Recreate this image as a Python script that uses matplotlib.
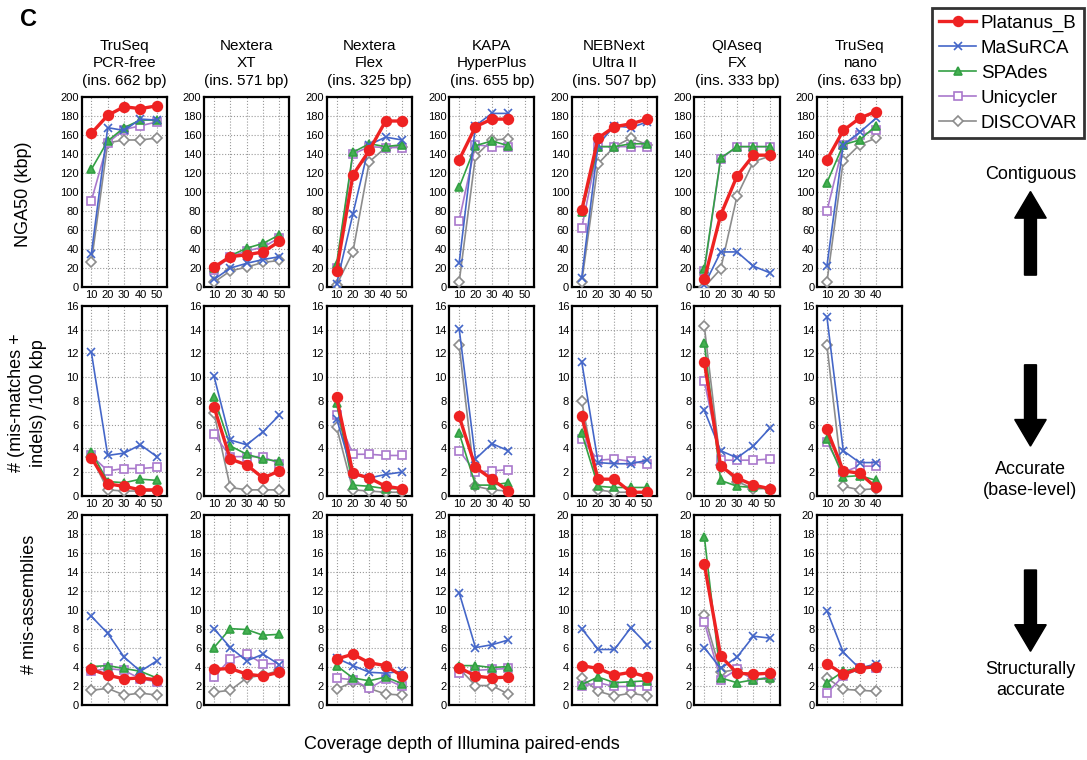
import numpy as np
import matplotlib
matplotlib.use('Agg')
import matplotlib.pyplot as plt
from matplotlib.patches import FancyArrow

plt.rcParams['font.family'] = ['Liberation Sans', 'DejaVu Sans']

libraries = ['TruSeq\nPCR-free\n(ins. 662 bp)', 'Nextera\nXT\n(ins. 571 bp)', 'Nextera\nFlex\n(ins. 325 bp)',
             'KAPA\nHyperPlus\n(ins. 655 bp)', 'NEBNext\nUltra II\n(ins. 507 bp)', 'QIAseq\nFX\n(ins. 333 bp)',
             'TruSeq\nnano\n(ins. 633 bp)']
assemblers = ['Platanus_B', 'MaSuRCA', 'SPAdes', 'Unicycler', 'DISCOVAR']
depth5 = [10, 20, 30, 40, 50]
depth4 = [10, 20, 30, 40]
depths = [depth5, depth5, depth5, depth4, depth5, depth5, depth4]
xticks_per_lib = [depth5, depth5, depth5, depth5, depth5, depth5, depth4]

# NGA50 (kbp), one list per assembler, columns = libraries
nga50_platanus = [[162, 181, 190, 188, 191], [21, 32, 34, 37, 48], [17, 118, 144, 175, 175], [134, 169, 177, 177],
                  [81, 157, 169, 172, 177], [8, 76, 117, 139, 139], [134, 165, 178, 185]]
nga50_masurca = [[35, 168, 165, 177, 176], [8, 20, 25, 29, 32], [3, 77, 150, 158, 155], [25, 170, 183, 183],
                 [10, 150, 170, 168, 174], [2, 37, 37, 22, 15], [22, 150, 163, 178]]
nga50_spades = [[124, 154, 168, 176, 176], [20, 33, 41, 46, 55], [24, 142, 151, 148, 150], [105, 149, 154, 149],
                [79, 148, 148, 151, 151], [19, 136, 148, 148, 148], [110, 150, 155, 170]]
nga50_unicycler = [[91, 152, 166, 170, 174], [18, 32, 38, 42, 52], [20, 140, 148, 147, 147], [70, 150, 148, 148],
                   [62, 148, 148, 148, 148], [17, 135, 148, 148, 148], [80, 150, 160, 165]]
nga50_discovar = [[26, 152, 155, 155, 157], [5, 17, 21, 26, 28], [2, 37, 132, 147, 148], [5, 138, 155, 156],
                  [5, 130, 148, 157, 150], [0, 19, 96, 132, 138], [5, 133, 150, 157]]

# mismatches + indels per 100 kbp
err_platanus = [[3.2, 1.0, 0.8, 0.5, 0.5], [7.5, 3.1, 2.6, 1.5, 2.1], [8.3, 1.9, 1.5, 0.8, 0.6], [6.7, 2.4, 1.4, 0.4],
                [6.7, 1.4, 1.4, 0.3, 0.3], [11.3, 2.5, 1.5, 0.9, 0.6], [5.6, 2.1, 1.9, 0.7]]
err_masurca = [[12.1, 3.4, 3.6, 4.3, 3.3], [10.1, 4.7, 4.3, 5.4, 6.8], [6.5, 1.8, 1.5, 1.8, 2.0], [14.1, 3.1, 4.4, 3.8],
               [11.3, 2.8, 2.7, 2.7, 3.0], [7.2, 3.8, 3.2, 4.2, 5.7], [15.1, 3.8, 2.8, 2.8]]
err_spades = [[3.7, 1.2, 1.1, 1.4, 1.3], [8.3, 4.2, 3.5, 3.1, 2.9], [7.8, 0.9, 0.8, 0.6, 0.6], [5.3, 0.9, 0.9, 1.1],
              [5.3, 0.8, 0.7, 0.7, 0.7], [12.9, 1.3, 0.8, 0.7, 0.6], [4.8, 1.6, 1.7, 1.3]]
err_unicycler = [[3.4, 2.1, 2.3, 2.3, 2.4], [5.2, 3.3, 3.3, 3.3, 2.7], [6.8, 3.5, 3.5, 3.4, 3.4], [3.8, 2.0, 2.1, 2.2],
                 [4.8, 3.0, 3.1, 2.9, 2.7], [9.7, 3.0, 3.0, 3.0, 3.1], [4.5, 2.0, 2.5, 2.5]]
err_discovar = [[3.3, 0.5, 0.4, 0.4, 0.4], [7.0, 0.7, 0.5, 0.5, 0.5], [5.8, 0.5, 0.4, 0.3, 0.3], [12.7, 0.8, 0.5, 0.4],
                [8.0, 0.5, 0.3, 0.3, 0.3], [14.3, 2.6, 1.2, 0.6, 0.6], [12.7, 0.8, 0.5, 0.6]]

# mis-assemblies
mis_platanus = [[3.7, 3.1, 2.7, 2.8, 2.6], [3.7, 3.8, 3.2, 3.0, 3.4], [4.8, 5.3, 4.4, 4.1, 3.0], [3.9, 3.0, 2.8, 2.9],
                [4.1, 3.8, 3.1, 3.4, 2.9], [14.8, 5.1, 3.3, 3.2, 3.3], [4.3, 3.2, 3.8, 4.0]]
mis_masurca = [[9.3, 7.5, 5.0, 3.5, 4.6], [8.0, 6.0, 4.6, 5.3, 4.2], [4.9, 4.1, 3.4, 3.3, 3.5], [11.8, 6.0, 6.3, 6.8],
               [8.0, 5.8, 5.8, 8.1, 6.3], [6.0, 3.8, 5.0, 7.2, 7.0], [9.9, 5.5, 3.8, 4.3]]
mis_spades = [[4.0, 4.1, 3.8, 3.5, 2.8], [6.0, 8.0, 7.9, 7.3, 7.4], [4.1, 2.8, 2.5, 2.9, 2.2], [4.1, 4.1, 3.9, 4.0],
              [2.1, 2.9, 2.3, 2.4, 2.5], [17.7, 2.8, 2.3, 2.6, 2.8], [2.3, 3.5, 3.9, 4.1]]
mis_unicycler = [[3.5, 3.8, 3.6, 2.7, 2.4], [2.9, 4.8, 5.3, 4.3, 4.3], [2.8, 2.6, 1.7, 2.7, 1.9], [3.3, 3.6, 3.7, 3.8],
                 [1.9, 2.3, 1.9, 1.9, 2.0], [8.7, 2.6, 3.7, 2.6, 2.9], [1.2, 3.0, 3.8, 3.9]]
mis_discovar = [[1.5, 1.7, 1.0, 1.2, 1.0], [1.3, 1.5, 2.8, 3.1, 3.6], [1.6, 2.4, 1.7, 1.1, 1.0], [3.8, 2.0, 2.0, 1.1],
                [2.8, 1.4, 0.9, 1.2, 0.9], [9.4, 3.4, 3.7, 2.7, 2.7], [2.8, 1.6, 1.5, 1.4]]

metrics = [[nga50_platanus, nga50_masurca, nga50_spades, nga50_unicycler, nga50_discovar],
           [err_platanus, err_masurca, err_spades, err_unicycler, err_discovar],
           [mis_platanus, mis_masurca, mis_spades, mis_unicycler, mis_discovar]]
ymax = [200, 16, 20]
ystep = [20, 2, 2]

# styles: color, marker, line width, marker size, marker face
styles = [('#ee2222', 'o', 2.4, 7, '#ee2222'),
          ('#4466c8', 'x', 1.2, 6, '#4466c8'),
          ('#33a044', '^', 1.2, 5.5, '#44b050'),
          ('#a978cc', 's', 1.2, 6, 'white'),
          ('#8c8c8c', 'D', 1.2, 5, 'white')]

fig, axes = plt.subplots(3, 7, figsize=(10.87, 7.6), dpi=100)
fig.subplots_adjust(left=0.075, right=0.83, top=0.872, bottom=0.073, wspace=0.44, hspace=0.1)

for r in range(3):
    for c in range(7):
        ax = axes[r, c]
        x = depths[c]
        for k in range(5):
            col, mk, lw, ms, mfc = styles[k]
            ax.plot(x, metrics[r][k][c], color=col, marker=mk, lw=lw, ms=ms, mfc=mfc,
                    mec=col, mew=1.2, zorder=10 - k if k else 12, label=assemblers[k])
        ax.set_xlim(4, 56)
        ax.set_ylim(0, ymax[r])
        ax.set_xticks(xticks_per_lib[c])
        ax.set_yticks(np.arange(0, ymax[r] + 1, ystep[r]))
        ax.grid(True, ls=':', color='#999999', lw=0.8)
        ax.tick_params(length=0, labelsize=8, pad=2)
        if r == 2:
            ax.set_xticklabels([])
        for s in ax.spines.values():
            s.set_linewidth(1.6)
        if r == 0:
            ax.set_title(libraries[c], fontsize=11, pad=9, linespacing=1.3)

fig.text(0.022, 0.745, 'NGA50 (kbp)', rotation=90, ha='center', va='center', fontsize=13)
fig.text(0.025, 0.47, '# (mis-matches +\nindels) /100 kbp', rotation=90, ha='center', va='center',
         fontsize=13, linespacing=1.4)
fig.text(0.027, 0.205, '# mis-assemblies', rotation=90, ha='center', va='center', fontsize=13)
fig.text(0.425, 0.02, 'Coverage depth of Illumina paired-ends', ha='center', va='center', fontsize=13)
fig.text(0.018, 0.975, 'C', fontsize=17, fontweight='bold', ha='left', va='center')

handles, labels = axes[0, 0].get_legend_handles_labels()
leg = fig.legend(handles, labels, loc='upper right', bbox_to_anchor=(0.999, 0.992), fontsize=13.5,
                 frameon=True, fancybox=False, handlelength=2.0, labelspacing=0.42, borderpad=0.35,
                 handletextpad=0.25, borderaxespad=0.1)
leg.get_frame().set_edgecolor('black')
leg.get_frame().set_linewidth(2)

xc = 0.948
fig.text(xc, 0.77, 'Contiguous', ha='center', va='center', fontsize=13)
fig.add_artist(FancyArrow(xc, 0.638, 0, 0.11, width=0.011, head_width=0.029, head_length=0.035,
                          length_includes_head=True, color='black', transform=fig.transFigure))
fig.add_artist(FancyArrow(xc, 0.52, 0, -0.107, width=0.011, head_width=0.029, head_length=0.035,
                          length_includes_head=True, color='black', transform=fig.transFigure))
fig.text(xc, 0.368, 'Accurate\n(base-level)', ha='center', va='center', fontsize=13, linespacing=1.3)
fig.add_artist(FancyArrow(xc, 0.25, 0, -0.107, width=0.011, head_width=0.029, head_length=0.035,
                          length_includes_head=True, color='black', transform=fig.transFigure))
fig.text(xc, 0.105, 'Structurally\naccurate', ha='center', va='center', fontsize=13, linespacing=1.3)

fig.savefig('out.png', dpi=100)
